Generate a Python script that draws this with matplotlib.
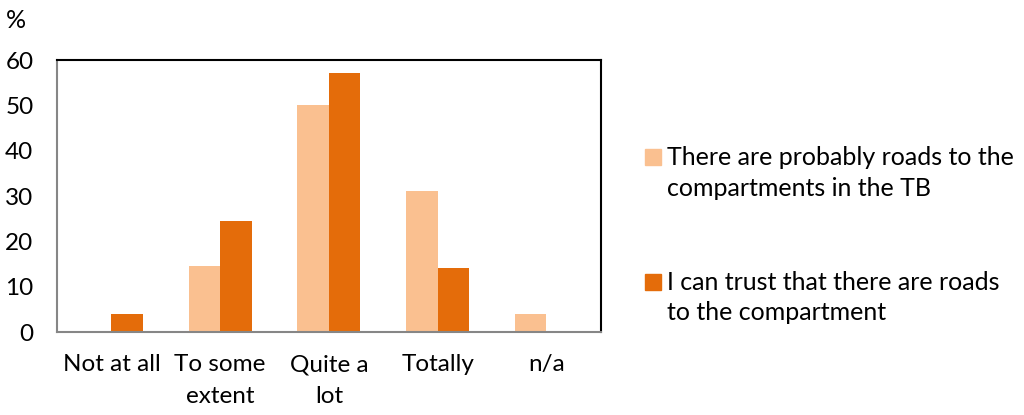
import matplotlib
matplotlib.use("Agg")
import matplotlib.pyplot as plt
from matplotlib.patches import Rectangle
import numpy as np

plt.rcParams["font.family"] = ["Lato", "DejaVu Sans"]

categories = ["Not at all", "To some\nextent", "Quite a\nlot", "Totally", "n/a"]
probably = [0, 14.5, 50.0, 31.1, 4.0]
can_trust = [3.9, 24.4, 57.2, 14.2, 0]
series_names = [["There are probably roads to the", "compartments in the TB"],
                ["I can trust that there are roads", "to the compartment"]]
yticks = [0, 10, 20, 30, 40, 50, 60]

light = "#FAC090"
dark = "#E46C0A"

fig = plt.figure(figsize=(10.24, 4.15), dpi=100)
ax = fig.add_axes([0.0557, 0.2, 0.531, 0.655])

x = np.arange(len(categories))
w = 0.29
ax.bar(x - w / 2, probably, w, color=light, edgecolor="none")
ax.bar(x + w / 2, can_trust, w, color=dark, edgecolor="none")

ax.set_xlim(-0.5, len(categories) - 0.5)
ax.set_ylim(0, 60)
ax.set_yticks(yticks)
ax.set_xticks(x)
ax.set_xticklabels(categories, fontsize=17.5, linespacing=1.65, va="top")
ax.tick_params(axis="y", labelsize=17.5, length=0, pad=17)
ax.tick_params(axis="x", length=0, pad=16)

for side in ["top", "right"]:
    ax.spines[side].set_color("black")
    ax.spines[side].set_linewidth(1.5)
for side in ["left", "bottom"]:
    ax.spines[side].set_color("#868686")
    ax.spines[side].set_linewidth(1.5)

fig.text(6 / 1024, 1 - 20 / 415, "%", fontsize=18, va="center", ha="left")

# legend drawn by hand to match the layout
leg_colors = [light, dark]
leg_y = [157, 282]
for c, lines, yy in zip(leg_colors, series_names, leg_y):
    fig.patches.append(Rectangle((645 / 1024, 1 - (yy + 8) / 415), 16 / 1024, 16 / 415,
                                 transform=fig.transFigure, color=c))
    for i, line in enumerate(lines):
        fig.text(667 / 1024, 1 - (yy + 31 * i) / 415, line, fontsize=18,
                 va="center", ha="left")

fig.savefig("out.png", dpi=100)
